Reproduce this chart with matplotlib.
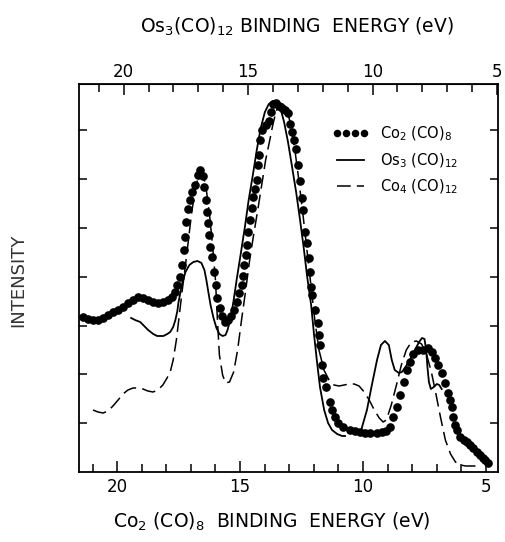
import numpy as np
import matplotlib
matplotlib.use("Agg")
import matplotlib.pyplot as plt
from matplotlib.ticker import MultipleLocator

# ---- data (binding energy on the Co2(CO)8 scale, eV ; intensity in arbitrary units) ----
co2_e = [21.39, 21.18, 20.98, 20.78, 20.57, 20.37, 20.17, 19.96, 19.76, 19.56, 19.35, 19.15,
         18.95, 18.75, 18.54, 18.34, 18.14, 17.93, 17.77, 17.65, 17.57, 17.44, 17.36, 17.28,
         17.24, 17.20, 17.12, 17.04, 16.96, 16.83, 16.71, 16.63, 16.51, 16.47, 16.39, 16.35,
         16.31, 16.27, 16.22, 16.14, 16.06, 15.98, 15.94, 15.82, 15.74, 15.62, 15.49, 15.37,
         15.25, 15.13, 15.05, 14.92, 14.88, 14.84, 14.76, 14.72, 14.68, 14.60, 14.52, 14.48,
         14.40, 14.31, 14.27, 14.23, 14.19, 14.11, 13.95, 13.83, 13.75, 13.66, 13.54, 13.42,
         13.30, 13.18, 13.05, 12.97, 12.89, 12.81, 12.73, 12.65, 12.57, 12.49, 12.44, 12.36,
         12.28, 12.20, 12.16, 12.12, 12.08, 11.96, 11.83, 11.79, 11.75, 11.67, 11.63, 11.51,
         11.35, 11.27, 11.14, 11.02, 10.82, 10.53, 10.33, 10.13, 9.92, 9.72, 9.44, 9.23,
         9.07, 8.91, 8.79, 8.62, 8.50, 8.34, 8.22, 8.09, 7.97, 7.77, 7.57, 7.36, 7.20, 7.08,
         6.96, 6.79, 6.67, 6.55, 6.47, 6.39, 6.35, 6.27, 6.18, 6.06, 5.90, 5.78, 5.66, 5.53,
         5.37, 5.25, 5.13, 5.05, 4.92]
co2_i = [155, 153, 152, 152, 154, 157, 160, 162, 165, 169, 172, 175,
         174, 172, 170, 169, 170, 172, 175, 180, 187, 195, 207, 222,
         235, 250, 263, 272, 280, 287, 297, 302, 296, 285, 272, 260,
         249, 237, 225, 215, 200, 187, 174, 164, 156, 150, 152, 156,
         162, 170, 179, 187, 196, 207, 217, 227, 240, 252, 264, 275,
         283, 292, 307, 317, 332, 342, 347, 351, 360, 368, 369, 366,
         364, 362, 359, 348, 340, 332, 323, 307, 291, 274, 262, 240,
         229, 214, 200, 185, 177, 162, 149, 137, 127, 107, 94, 85,
         70, 62, 55, 49, 45, 42, 41, 40, 39, 39, 39, 40,
         41, 45, 55, 65, 77, 90, 102, 110, 118, 122, 122, 124, 120, 114,
         107, 99, 89, 79, 72, 65, 55, 47, 42, 35, 32, 30, 27, 24,
         20, 17, 14, 12, 9]

os3_e_a = [19.43, 19.27, 19.06, 18.90, 18.74, 18.53, 18.37, 18.12, 17.96, 17.84, 17.72,
           17.63, 17.55, 17.51, 17.43, 17.35, 17.22, 17.06, 16.90, 16.73, 16.57, 16.45,
           16.37, 16.29, 16.20, 16.08, 15.96, 15.84, 15.71, 15.59, 15.51, 15.38, 15.26,
           15.14, 14.98, 14.81, 14.65, 14.48, 14.32, 14.16, 13.99, 13.83, 13.66, 13.46,
           13.34, 13.21, 13.05, 12.89, 12.72, 12.56, 12.40, 12.28, 12.11, 11.99, 11.87,
           11.75, 11.58, 11.42, 11.26, 11.05, 10.85, 10.73]
os3_i_a = [154, 152, 150, 146, 142, 138, 136, 136, 138, 140, 145,
           152, 161, 169, 179, 189, 200, 207, 210, 211, 209, 202,
           192, 180, 167, 154, 144, 138, 136, 137, 142, 154, 172,
           192, 217, 244, 272, 297, 322, 344, 360, 368, 371, 370,
           362, 350, 330, 306, 280, 252, 222, 197, 167, 137, 110,
           85, 62, 49, 42, 38, 36, 36]
os3_e_b = [10.05, 9.84, 9.64, 9.43, 9.27, 9.11, 8.95, 8.83, 8.71, 8.54, 8.42, 8.30,
           8.09, 7.89, 7.72, 7.60, 7.50, 7.43, 7.38, 7.32, 7.24, 7.12, 7.00, 6.90, 6.80]
os3_i_b = [44, 62, 87, 112, 127, 131, 127, 112, 102, 99, 100, 104,
           112, 122, 130, 134, 133, 122, 105, 90, 83, 85, 88, 87, 83]

co4_e = [20.98, 20.78, 20.57, 20.37, 20.17, 19.96, 19.76, 19.56, 19.35, 19.15, 18.95, 18.75,
         18.54, 18.34, 18.14, 17.97, 17.84, 17.72, 17.59, 17.47, 17.35, 17.22, 17.10, 16.98,
         16.86, 16.73, 16.61, 16.49, 16.37, 16.24, 16.12, 16.00, 15.92, 15.84, 15.71, 15.59,
         15.43, 15.26, 15.10, 14.94, 14.77, 14.61, 14.45, 14.28, 14.12, 13.96, 13.79, 13.67,
         13.54, 13.42, 13.26, 13.10, 12.93, 12.77, 12.61, 12.44, 12.28, 12.12, 11.96, 11.79,
         11.59, 11.38, 11.18, 10.97, 10.77, 10.56, 10.36, 10.16, 9.95, 9.75, 9.54, 9.34, 9.18,
         9.05, 8.85, 8.64, 8.44, 8.24, 8.03, 7.83, 7.62, 7.42, 7.22, 7.05, 6.85, 6.65, 6.44,
         6.24, 6.03, 5.83, 5.62, 5.42]
co4_i = [62, 60, 59, 61, 66, 72, 78, 82, 84, 84, 83, 81,
         80, 82, 87, 94, 100, 112, 132, 157, 182, 207, 232, 257,
         277, 292, 300, 297, 282, 257, 227, 192, 152, 117, 97, 89,
         90, 100, 122, 152, 182, 212, 237, 262, 287, 312, 332, 347,
         360, 367, 368, 362, 347, 322, 292, 257, 222, 187, 152, 122,
         102, 92, 87, 86, 87, 88, 88, 86, 80, 72, 62, 54, 50,
         52, 67, 87, 107, 122, 130, 131, 128, 118, 100, 80, 55, 32, 18,
         10, 7, 6, 6, 6]

labels = ["Co$_2$ (CO)$_8$", "Os$_3$ (CO)$_{12}$", "Co$_4$ (CO)$_{12}$"]
bottom_ticks = [20, 15, 10, 5]

# ---- figure ----
plt.rcParams['font.family'] = ['DejaVu Sans']
fig = plt.figure(figsize=(5.05, 5.42), dpi=100)
ax = fig.add_axes([79/505, 70/542, 419/505, 388/542])

ax.plot(co2_e, co2_i, linestyle='none', marker='o', markersize=5.2, color='black',
        label=labels[0])
ax.plot(os3_e_a, os3_i_a, '-', color='black', lw=1.3, label=labels[1])
ax.plot(os3_e_b, os3_i_b, '-', color='black', lw=1.3)
ax.plot(co4_e, co4_i, color='black', lw=1.1, dashes=(9, 4), label=labels[2])

ax.set_xlim(21.55, 4.51)
ax.set_ylim(0, 388)
ax.set_xticks(bottom_ticks)
ax.xaxis.set_minor_locator(MultipleLocator(1))
ax.set_yticks(np.arange(1, 8) * 48.8)
ax.set_yticklabels([])
ax.tick_params(axis='x', which='both', direction='in', top=False, labelsize=12, pad=4)
ax.tick_params(axis='x', which='major', length=8, width=1.1)
ax.tick_params(axis='x', which='minor', length=5.5, width=1.1)
ax.tick_params(axis='y', which='both', direction='in', left=True, right=True, length=6, width=1.1)
for s in ax.spines.values():
    s.set_linewidth(1.3)

sec = ax.secondary_xaxis('top', functions=(lambda b: 0.988 * b + 0.503,
                                           lambda t: (t - 0.503) / 0.988))
sec.set_xticks(bottom_ticks)
sec.xaxis.set_minor_locator(MultipleLocator(1))
sec.tick_params(which='both', direction='in', labelsize=12, pad=2)
sec.tick_params(which='major', length=8, width=1.1)
sec.tick_params(which='minor', length=5.5, width=1.1)

leg = ax.legend(loc='upper left', bbox_to_anchor=(0.592, 0.91), frameon=False,
                fontsize=10.5, handlelength=2.4, handletextpad=0.8, labelspacing=0.55,
                numpoints=4, borderaxespad=0, markerscale=0.85)

fig.text(297/505, 1 - 27/542, "Os$_3$(CO)$_{12}$ BINDING  ENERGY (eV)", ha='center',
         va='center', fontsize=13.5)
fig.text(272/505, 1 - 522/542, "Co$_2$ (CO)$_8$  BINDING  ENERGY (eV)", ha='center',
         va='center', fontsize=13.5)
fig.text(18/505, 1 - 280/542, "INTENSITY", rotation=90, ha='center', va='center',
         fontsize=13, color='#333333')

fig.savefig("out.png", dpi=100)
